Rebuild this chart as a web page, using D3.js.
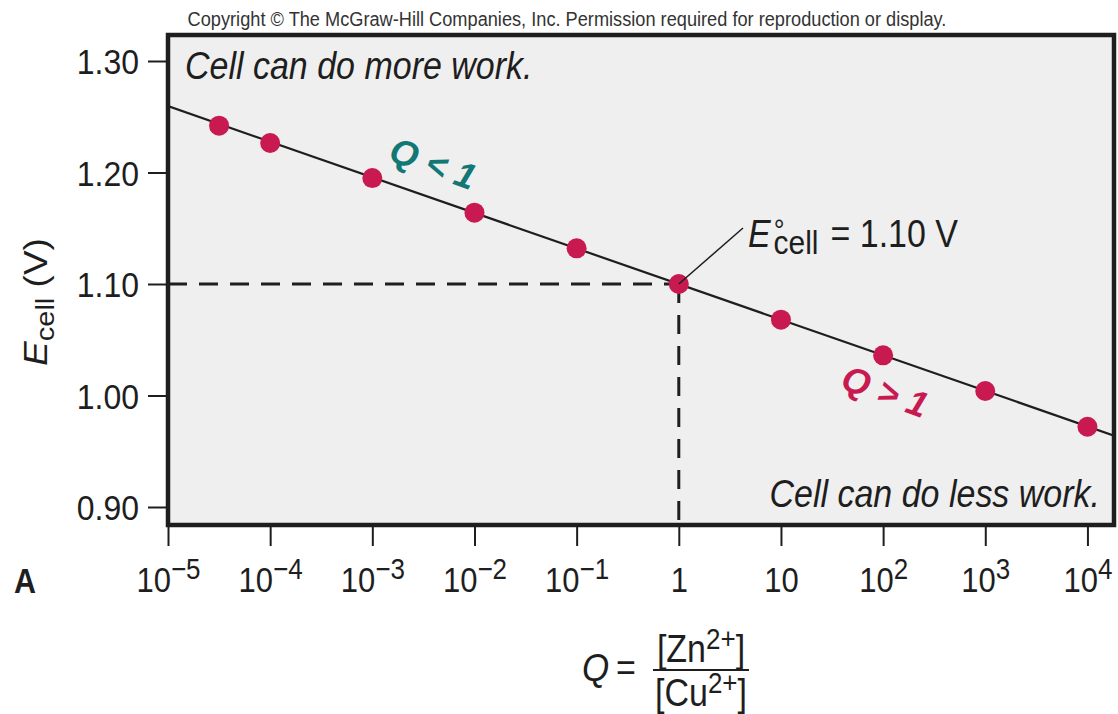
<!DOCTYPE html>
<html>
<head>
<meta charset="utf-8">
<script src="https://cdn.jsdelivr.net/npm/d3@7"></script>
<style>
  body { margin: 0; background: #fff; }
  svg { font-family: "Liberation Sans", Arial, Helvetica, sans-serif; }
</style>
</head>
<body>
<div id="chart"></div>
<script>
// Nernst plot for the Zn/Cu cell: E_cell vs log Q
let size = {width: 1118, height: 714};
let plot = {left: 168, right: 1114, top: 35, bottom: 525};

// x axis ticks (Q) and their labels: base + exponent
const qTicks   = [1e-5, 1e-4, 1e-3, 1e-2, 1e-1, 1, 10, 1e2, 1e3, 1e4];
const qBase    = ["10", "10", "10", "10", "10", "1", "10", "10", "10", "10"];
const qExp     = ["\u22125", "\u22124", "\u22123", "\u22122", "\u22121", "", "", "2", "3", "4"];

// y axis ticks (volts)
const eTicks   = [0.90, 1.00, 1.10, 1.20, 1.30];

// measured points
const pointQ   = [Math.pow(10, -4.5), 1e-4, 1e-3, 1e-2, 1e-1, 1, 10, 1e2, 1e3, 1e4];
const pointE   = [1.242, 1.2265, 1.195, 1.164, 1.132, 1.100, 1.068, 1.036, 1.004, 0.972];

// straight line through the points (end values at the frame edges)
const lineQ    = [1e-5, Math.pow(10, 4.26)];
const lineE    = [1.2595, 0.964];

// standard cell potential
const stdQ = 1, stdE = 1.10;

const ink = "#1e1e1e";
const dotColor = "#c81a50";
const teal = "#117876";
const S = 1.12;   // the type in the original is a bit taller than it is wide

let svg = d3.select("#chart").append("svg")
  .attr("width", size.width)
  .attr("height", size.height);

// horizontal text with the taller type
function htext(parent, x, y, fs) {
  return parent.append("text")
    .attr("transform", `translate(${x},${y}) scale(${1 / S},1)`)
    .attr("font-size", fs * S)
    .attr("fill", ink);
}

let x = d3.scaleLog()
  .domain([1e-5, Math.pow(10, 4.26)])
  .range([plot.left, plot.right]);

let y = d3.scaleLinear()
  .domain([stdE - (plot.bottom - 284) / 1115, stdE + (284 - plot.top) / 1115])
  .range([plot.bottom, plot.top]);

// copyright line
htext(svg, 567, 26, 18.2)
  .attr("text-anchor", "middle")
  .attr("fill", "#333")
  .text("Copyright \u00A9 The McGraw-Hill Companies, Inc. Permission required for reproduction or display.");

// plot background
svg.append("rect")
  .attr("x", plot.left).attr("y", plot.top)
  .attr("width", plot.right - plot.left)
  .attr("height", plot.bottom - plot.top)
  .attr("fill", "#efefef");

svg.append("clipPath").attr("id", "clip")
  .append("rect")
  .attr("x", plot.left).attr("y", plot.top)
  .attr("width", plot.right - plot.left)
  .attr("height", plot.bottom - plot.top);

// dashed guide lines to E° = 1.10 V at Q = 1
svg.append("line")
  .attr("x1", plot.left).attr("x2", x(stdQ))
  .attr("y1", y(stdE)).attr("y2", y(stdE))
  .attr("stroke", ink).attr("stroke-width", 3)
  .attr("stroke-dasharray", "19,12");
svg.append("line")
  .attr("x1", x(stdQ)).attr("x2", x(stdQ))
  .attr("y1", y(stdE)).attr("y2", plot.bottom)
  .attr("stroke", ink).attr("stroke-width", 3)
  .attr("stroke-dasharray", "19,12");

// the line
let lineData = lineQ.map((q, i) => [q, lineE[i]]);
svg.append("path")
  .datum(lineData)
  .attr("clip-path", "url(#clip)")
  .attr("fill", "none")
  .attr("stroke", ink)
  .attr("stroke-width", 2.2)
  .attr("d", d3.line().x(d => x(d[0])).y(d => y(d[1])));

// points
svg.selectAll("circle.pt")
  .data(pointQ.map((q, i) => ({q: q, e: pointE[i]})))
  .enter().append("circle")
  .attr("class", "pt")
  .attr("cx", d => x(d.q))
  .attr("cy", d => y(d.e))
  .attr("r", 10)
  .attr("fill", dotColor);

// leader line to the E° label
svg.append("line")
  .attr("x1", x(stdQ)).attr("y1", y(stdE))
  .attr("x2", 743).attr("y2", 228)
  .attr("stroke", ink).attr("stroke-width", 1.5);

// frame
svg.append("rect")
  .attr("x", plot.left).attr("y", plot.top)
  .attr("width", plot.right - plot.left)
  .attr("height", plot.bottom - plot.top)
  .attr("fill", "none")
  .attr("stroke", ink)
  .attr("stroke-width", 4.5);

// y axis
let yAxis = svg.append("g")
  .attr("transform", `translate(${plot.left - 1},0)`)
  .call(d3.axisLeft(y).tickValues(eTicks).tickSize(19).tickFormat(""));
yAxis.select(".domain").remove();
yAxis.selectAll("line").attr("stroke", ink).attr("stroke-width", 2);
yAxis.selectAll(".tick text").remove();
yAxis.selectAll(".tick").each(function(d) {
  htext(d3.select(this), -28, 12.5, 32)
    .attr("text-anchor", "end")
    .text(d3.format(".2f")(d));
});

// x axis
let xAxis = svg.append("g")
  .attr("transform", `translate(0,${plot.bottom + 1})`)
  .call(d3.axisBottom(x).tickValues(qTicks).tickSize(20).tickFormat(""));
xAxis.select(".domain").remove();
xAxis.selectAll("line").attr("stroke", ink).attr("stroke-width", 2);
xAxis.selectAll(".tick text").remove();
xAxis.selectAll(".tick").each(function(d, i) {
  let t = htext(d3.select(this), 0, 66, 31)
    .attr("text-anchor", "middle");
  t.append("tspan").text(qBase[i]);
  if (qExp[i]) {
    t.append("tspan")
      .attr("dy", -13)
      .attr("font-size", 26 * S)
      .text(qExp[i]);
  }
});

// panel letter
htext(svg, 14, 593, 30.5)
  .attr("font-weight", "bold")
  .text("A");

// y axis title
let yt = svg.append("text")
  .attr("transform", `translate(47,302) rotate(-90) scale(1,${1 / S})`)
  .attr("text-anchor", "middle")
  .attr("font-size", 37)
  .attr("fill", ink);
yt.append("tspan").attr("font-style", "italic").text("E");
yt.append("tspan").attr("font-size", 29).attr("dy", 8).text("cell");
yt.append("tspan").attr("dy", -8).text(" (V)");

// region notes
htext(svg, 185, 79, 34)
  .attr("font-style", "italic")
  .text("Cell can do more work.");
htext(svg, 1100, 507, 34)
  .attr("text-anchor", "end")
  .attr("font-style", "italic")
  .text("Cell can do less work.");

// Q < 1 and Q > 1 along the line
svg.append("text")
  .attr("transform", "translate(387,160) rotate(20)")
  .attr("font-size", 36).attr("font-style", "italic").attr("font-weight", "bold")
  .attr("fill", teal)
  .text("Q < 1");
svg.append("text")
  .attr("transform", "translate(839,388) rotate(20)")
  .attr("font-size", 36).attr("font-style", "italic").attr("font-weight", "bold")
  .attr("fill", dotColor)
  .text("Q > 1");

// E°cell = 1.10 V label
let el = htext(svg, 748, 247, 34);
el.append("tspan").attr("font-style", "italic").text("E");
el.append("tspan").attr("font-size", 27 * S).attr("dx", 3 * S).attr("dy", -7).text("\u00B0");
el.append("tspan").attr("font-size", 30 * S).attr("dx", -11 * S).attr("dy", 14).text("cell");
el.append("tspan").attr("dx", 12 * S).attr("dy", -7).text("= 1.10 V");

// Q = [Zn2+]/[Cu2+]
htext(svg, 582, 681, 35)
  .attr("font-style", "italic")
  .text("Q");
htext(svg, 616, 681, 34)
  .text("=");
svg.append("line")
  .attr("x1", 653).attr("x2", 749)
  .attr("y1", 670).attr("y2", 670)
  .attr("stroke", ink).attr("stroke-width", 2);
[["[Zn", 662], ["[Cu", 706]].forEach(function(p) {
  let t = htext(svg, 701, p[1], 34)
    .attr("text-anchor", "middle");
  t.append("tspan").text(p[0]);
  t.append("tspan").attr("dy", -13).attr("font-size", 26 * S).text("2+");
  t.append("tspan").attr("dy", 13).text("]");
});
</script>
</body>
</html>
